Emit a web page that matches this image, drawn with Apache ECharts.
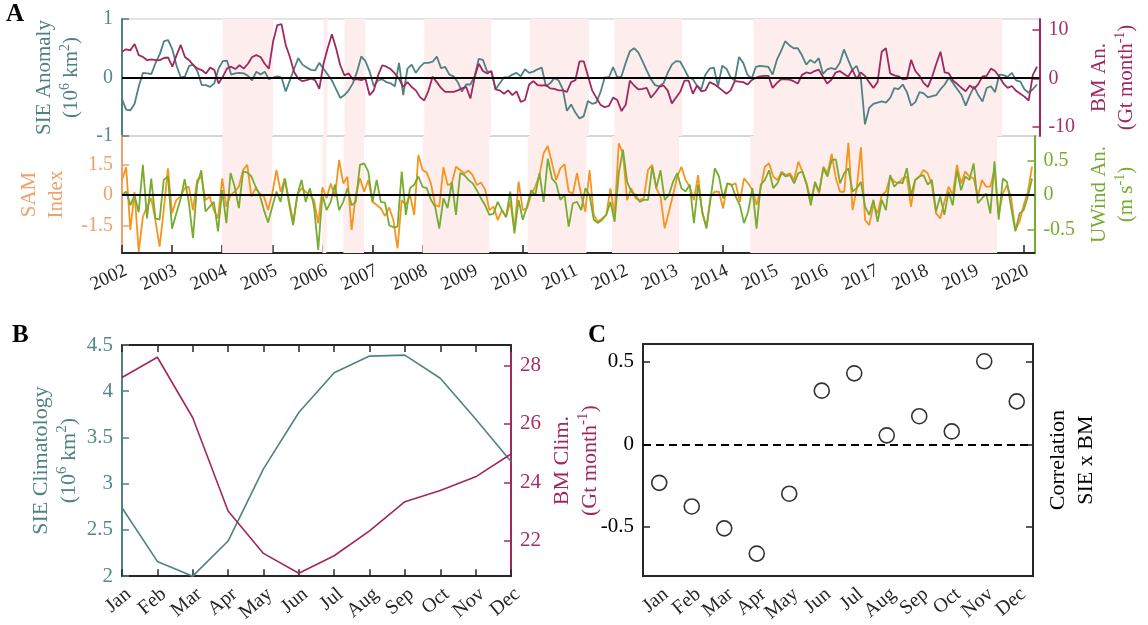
<!DOCTYPE html>
<html><head><meta charset="utf-8">
<script src="https://cdn.jsdelivr.net/npm/echarts@6/dist/echarts.min.js"></script>
<style>html,body{margin:0;padding:0;background:#fff}#c{width:1148px;height:625px}</style>
</head><body><div id="c"></div>
<script>
// ---------------- DATA ----------------
const startYear = 2002; // monthly series start Jan 2002
const sieAnomaly = [
-0.37,-0.55,-0.56,-0.45,-0.15,0.08,0.07,0.06,0.25,0.4,0.62,0.64,
0.48,0.2,0.0,0.02,0.2,0.22,0.1,-0.13,-0.13,-0.16,-0.1,0.15,
0.28,0.29,0.05,0.07,0.08,0.07,0.03,-0.05,0.1,0.05,0.1,-0.03,
0.0,0.02,0.0,-0.24,-0.05,0.15,0.33,0.22,0.17,0.13,0.12,0.25,
0.15,0.05,-0.05,-0.2,-0.35,-0.3,-0.22,-0.1,0.1,0.36,0.28,0.1,
-0.15,-0.05,-0.03,-0.08,-0.1,-0.15,0.25,-0.3,0.15,0.22,0.08,0.18,
0.25,0.25,0.27,0.36,0.16,0.18,0.05,0.02,-0.08,-0.24,-0.12,-0.12,
0.02,0.32,0.3,0.1,0.1,-0.2,-0.1,0.0,0.0,0.05,0.08,0.02,
0.14,0.08,0.1,0.14,0.17,-0.15,-0.1,-0.01,-0.05,-0.2,-0.57,-0.46,
-0.6,-0.7,-0.66,-0.4,-0.45,-0.43,-0.25,0.0,0.0,0.18,0.0,0.02,
0.25,0.45,0.5,0.43,0.28,0.12,-0.03,-0.13,-0.15,-0.1,0.08,0.22,
0.28,0.27,0.14,0.0,-0.03,-0.14,-0.2,0.05,0.15,0.17,-0.15,0.2,
0.15,0.0,-0.05,0.35,0.25,0.05,-0.02,0.18,0.2,0.19,0.18,0.05,
0.3,0.45,0.62,0.55,0.5,0.5,0.38,0.22,0.3,0.25,0.33,0.06,
0.14,0.16,0.14,0.25,0.48,0.3,0.13,0.2,0.0,-0.8,-0.52,-0.45,
-0.43,-0.41,-0.43,-0.35,-0.18,-0.2,-0.12,-0.25,-0.48,-0.42,-0.25,-0.27,
-0.34,-0.32,-0.3,-0.2,-0.12,0.0,-0.1,-0.2,-0.3,-0.48,-0.3,-0.15,
-0.3,-0.41,-0.18,-0.15,-0.25,0.05,0.04,0.01,0.08,-0.05,-0.07,-0.2,
-0.26,-0.2,-0.12];
const bmAnomaly = [
5.5,6.0,5.8,7.1,4.8,4.4,3.75,3.9,3.75,3.75,4.2,4.3,
2.4,4.8,6.9,4.4,3.75,2.7,2.0,1.7,1.0,2.2,1.7,-1.1,
0.3,2.0,2.4,1.9,2.7,2.0,3.0,4.4,4.8,4.4,3.0,2.0,
7.6,11.0,11.2,6.9,4.4,1.3,-0.1,-0.6,-0.4,-0.1,-0.4,-2.2,
3.0,6.2,9.1,6.2,2.7,0.6,1.0,-0.2,-0.2,-0.4,-0.1,-3.5,
-2.5,0.6,2.7,2.4,1.9,1.0,-0.1,-1.8,-0.8,-1.8,-2.5,-3.9,
-4.6,-2.6,0.3,-0.8,-2.0,-2.8,-2.8,-2.8,-2.5,-2.1,-1.8,-4.2,
0.2,3.0,1.5,1.0,1.5,-2.3,-2.5,-3.2,-2.5,-3.5,-2.7,-4.9,
-4.5,-1.3,-0.6,-1.4,-1.5,-1.4,-2.1,-2.2,-2.5,-2.5,-2.8,-0.8,
-0.4,3.5,3.5,0.5,-2.5,-4.0,-5.5,-6.0,-5.7,-4.0,-4.5,-6.8,
-5.5,-0.5,-1.5,-2.3,-2.2,-2.0,-4.0,-3.0,-1.8,-1.5,-2.5,-5.2,
-4.0,-2.8,-0.5,-0.5,-3.2,-1.5,-2.7,-2.5,-0.8,-1.2,-1.8,-2.5,
-3.2,-2.5,-0.6,-0.7,-0.8,-1.3,-0.4,0.1,0.4,0.5,0.5,-2.0,
-1.0,-0.2,-0.2,-0.3,-0.6,-1.1,0.7,1.2,1.0,1.5,1.8,0.3,
-1.1,-0.3,1.2,1.5,0.9,0.3,1.8,-0.1,1.2,0.5,-0.8,-2.0,
-0.8,5.5,6.2,1.0,0.6,0.4,-0.2,-0.1,3.8,1.5,0.5,-1.0,
-1.8,0.3,3.0,5.5,1.2,1.0,-0.5,-1.2,-2.0,-2.7,-1.5,-2.2,
-1.2,0.4,0.5,2.0,1.5,0.3,-1.1,-2.0,-1.6,-2.6,-3.2,-3.8,
-4.6,0.7,2.4];
const samIndex = [
0.74,1.36,-1.72,0.16,-2.79,-1.07,-0.57,-0.16,-1.23,-2.54,-0.74,1.31,
-0.9,-0.25,-0.08,0.33,0.41,-0.74,0.74,0.9,-0.25,-0.08,-0.74,-1.15,
0.82,-0.57,0,0.16,0.41,1.23,1.48,-0.08,0.33,0.08,-0.08,-0.74,
0.08,1.23,0.16,0.82,-0.25,-1.31,0,0.33,0.16,0,-0.25,-1.39,
0.38,-0.16,0.57,-0.08,1.72,0.57,0.9,-1.72,0,0.82,0.16,0.74,
-0.33,-0.49,-0.66,-1.03,-0.61,-1.23,-2.62,-0.25,-0.49,0,-0.98,1.97,
1.23,1.1,0.57,-0.49,-0.57,1.36,0.49,0.57,1.39,1.23,1.07,1.2,
0.98,0.49,0.61,0.25,-0.74,-0.57,-1.23,-0.74,-1.1,-0.33,-1.72,0.66,
-0.74,-0.66,0,0.41,0.98,2.05,2.41,1.56,0.74,1.31,1.52,0.16,
0.08,1.07,0,-0.82,1.23,-0.98,-1.31,-1.15,-0.98,0.33,-0.98,2.54,
2.05,-0.25,0.33,-0.16,-0.25,-0.16,1.23,1.48,0.33,-0.08,-1.64,-0.82,
0,0.9,1.39,0.74,0.41,-0.25,0.98,-0.9,-1.56,-0.08,0.16,0.16,
-0.66,0.57,0.49,0.57,-0.33,0.82,0.57,0.25,-0.49,0.33,1.39,1.56,
0.9,0.74,1.15,0.98,1.07,0.74,1.64,1.15,0.57,-0.25,0.57,0.08,
1.39,1.07,2.02,0.82,0.16,0.16,2.57,-0.74,0.33,2.34,-1.23,-1.48,
-0.49,-0.9,0,0.16,0.9,0.66,0.57,0.82,0.9,-0.57,0.74,0.9,
1.23,1.07,0.49,-0.9,-1.15,-0.33,0.41,0,1.48,0.57,1.15,0.9,
0.82,-0.08,0.74,0.41,0.41,1.23,-0.98,0.08,0.49,-0.16,-1.72,-1.31,
-0.49,0.16,1.39];
const uwindAnomaly = [
0,0.05,-0.15,0,-0.25,0.44,-0.34,0.24,-0.34,-0.36,0.22,0.27,
-0.49,-0.27,-0.07,0.23,-0.1,-0.63,0.15,0.36,-0.24,-0.17,-0.1,-0.53,
0.07,-0.41,0.32,0.12,-0.19,0.34,0.33,0.27,0.12,0,-0.22,-0.4,
-0.17,0.05,-0.1,0.24,-0.12,-0.44,0,0.22,-0.1,0.1,-0.17,-0.8,
0,-0.22,-0.1,0.15,-0.22,-0.1,0.1,-0.15,-0.1,0.44,0.46,0.34,
-0.1,0.22,-0.1,-0.11,-0.44,-0.47,-0.46,0.34,-0.29,0.1,0.15,0.27,
0.12,0.1,-0.07,-0.17,-0.49,-0.05,-0.19,0.19,-0.29,0.32,0.29,0.22,
0.17,0.07,-0.05,-0.15,-0.29,-0.27,-0.1,-0.22,-0.32,0.05,-0.56,-0.07,
-0.36,-0.17,0.07,0,0.32,-0.1,0.53,0.24,0.17,-0.07,0,-0.46,
-0.12,-0.1,-0.22,0.1,0,-0.36,-0.41,-0.36,-0.29,-0.1,-0.39,0.32,
0.66,0.19,0.05,0,-0.1,-0.07,-0.07,0.41,0.1,0.36,-0.07,0,
0.19,0.32,0.1,0.05,0.15,-0.41,0.15,-0.24,-0.49,-0.05,0.39,0.27,
-0.05,0.17,0.15,-0.02,-0.15,-0.41,-0.24,0.1,-0.49,0.15,0.22,0.36,
0.1,0.17,0.32,0.27,0.29,0.17,0.32,0.34,0.15,-0.15,0.19,0.05,
0.39,0.27,0.51,0.52,0.17,0.32,0.39,0.05,0.1,0.19,-0.17,-0.29,
-0.07,-0.39,-0.07,-0.22,0.29,0.12,0.19,0.17,0.39,0,0.22,0.27,
0.29,0.15,0.22,-0.24,-0.02,-0.29,0.05,-0.15,0.36,0.07,0.27,0.22,
0.46,-0.12,-0.05,0.02,-0.27,0.49,-0.36,0.24,0.19,-0.19,-0.53,-0.27,
-0.22,-0.02,0.24];
const shadedPeriods = [[2004.0,2005.0],[2006.0,2006.08],[2006.42,2006.83],[2008.0,2009.33],[2010.1,2011.27],[2011.78,2013.12],[2014.54,2019.47]];
const yearTicks = [2002,2003,2004,2005,2006,2007,2008,2009,2010,2011,2012,2013,2014,2015,2016,2017,2018,2019,2020];
const months = ['Jan','Feb','Mar','Apr','May','Jun','Jul','Aug','Sep','Oct','Nov','Dec'];
const sieClimatology = [2.74,2.16,2.0,2.38,3.16,3.77,4.2,4.38,4.39,4.14,3.7,3.24];
const bmClimatology = [27.59,28.28,26.21,23.02,21.57,20.89,21.49,22.34,23.34,23.72,24.19,24.97];
const corrSieBm = [-0.234,-0.377,-0.51,-0.663,-0.30,0.325,0.43,0.054,0.17,0.078,0.503,0.26];
const sieTicks = [-1,0,1], bmTicks = [-10,0,10], samTicks = [-1.5,0,1.5], uwTicks = [-0.5,0,0.5];
const sieClimTicks = [2,2.5,3,3.5,4,4.5], bmClimTicks = [22,24,26,28], corrTicks = [-0.5,0,0.5];

// ---------------- STYLE ----------------
const F = 'Liberation Serif';
const TEAL = '#4f8282', TEAL_T = '#568989';
const MAG = '#a0285f', MAG_T = '#a3306a';
const ORA = '#f7941e', SAL = '#eda26c';
const GRN = '#77ac30';
const DARK = '#262626';
const toSeries = (arr) => arr.map((v, i) => [startYear + i / 12, v]);

function nameStyle(color, size) {
  return { color, fontFamily: F, fontSize: size, lineHeight: size + 6,
    rich: { t: { color, fontFamily: F, fontSize: size, lineHeight: size + 6 },
            s: { color, fontFamily: F, fontSize: Math.round(size * 0.66), lineHeight: Math.round(size * 0.72), verticalAlign: 'top' } } };
}
function yAx(o) {
  return {
    type: 'value', gridIndex: o.grid, position: o.pos, min: o.min, max: o.max,
    axisLine: { show: true, onZero: false, lineStyle: { color: o.color, width: 2 } },
    axisTick: { show: true, inside: true, length: 7, customValues: o.ticks, lineStyle: { color: o.color, width: 1.5 } },
    axisLabel: { show: o.labels !== false, customValues: o.ticks, color: o.tcolor || o.color, fontFamily: F, fontSize: o.fs || 20, margin: 9 },
    splitLine: { show: false },
    name: o.name || '', nameLocation: 'middle', nameRotate: 90, nameGap: o.gap || 30,
    nameTextStyle: nameStyle(o.ncolor || o.color, o.nfs || 21)
  };
}
function catAx(grid, pos, gap, labels) {
  return { type: 'category', gridIndex: grid, data: months, boundaryGap: gap, position: pos,
    axisLine: { onZero: false, lineStyle: { color: DARK, width: 1.8 } },
    axisTick: { inside: true, length: 7, alignWithLabel: true, lineStyle: { color: DARK, width: 1.5 } },
    axisLabel: labels ? { rotate: 40, align: 'right', verticalAlign: 'top', margin: 8, color: DARK, fontFamily: F, fontSize: 20, interval: 0 } : { show: false } };
}
const markAreaCfg = { silent: true, itemStyle: { color: '#fdeded' },
  data: shadedPeriods.map(p => [{ xAxis: p[0] }, { xAxis: p[1] }]) };
const zeroLine = (dashed) => ({ silent: true, symbol: ['none', 'none'], label: { show: false },
  lineStyle: { color: '#000', width: 2, type: dashed ? [8, 5] : 'solid' }, data: [{ yAxis: 0 }] });

const chart = echarts.init(document.getElementById('c'), null, { renderer: 'canvas' });
chart.setOption({
  animation: false,
  backgroundColor: '#fff',
  grid: [
    { left: 122, top: 19, width: 918, height: 117, show: true, borderColor: '#c8c8c8', borderWidth: 1 },
    { left: 122, top: 136, width: 918, height: 117, show: true, borderColor: '#c8c8c8', borderWidth: 1 },
    { left: 122, top: 345, width: 389, height: 233 },
    { left: 643, top: 344, width: 390, height: 234 }
  ],
  xAxis: [
    { type: 'value', gridIndex: 0, min: 2002, max: 2020.214, show: false },
    { type: 'value', gridIndex: 1, min: 2002, max: 2020.214,
      axisLine: { onZero: false, lineStyle: { color: DARK, width: 2 } },
      axisTick: { inside: true, length: 8, customValues: yearTicks, lineStyle: { color: DARK, width: 1.5 } },
      axisLabel: { customValues: yearTicks, rotate: 25, align: 'right', verticalAlign: 'top', margin: 8, color: DARK, fontFamily: F, fontSize: 19, formatter: v => String(v) },
      splitLine: { show: false } },
    catAx(2, 'bottom', false, true),
    catAx(2, 'top', false, false),
    catAx(3, 'bottom', true, true),
    catAx(3, 'top', true, false)
  ],
  yAxis: [
    yAx({ grid: 0, pos: 'left', min: -1, max: 1, ticks: sieTicks, color: TEAL, tcolor: TEAL_T,
          name: '{t|SIE Anomaly}\n{t|(10}{s|6}{t| km}{s|2}{t|)}', gap: 32 }),
    yAx({ grid: 0, pos: 'right', min: -11.95, max: 12.27, ticks: bmTicks, color: MAG, tcolor: MAG_T,
          name: '{t|BM An.}\n{t|(Gt month}{s|-1}{t|)}', gap: 33 }),
    yAx({ grid: 1, pos: 'left', min: -2.85, max: 2.9, ticks: samTicks, color: SAL,
          name: '{t|SAM}\n{t|Index}', gap: 38 }),
    yAx({ grid: 1, pos: 'right', min: -0.845, max: 0.86, ticks: uwTicks, color: GRN,
          name: '{t|UWind An.}\n{t|(m s}{s|-1}{t|)}', gap: 48 }),
    yAx({ grid: 2, pos: 'left', min: 2, max: 4.5, ticks: sieClimTicks, color: TEAL, tcolor: TEAL_T, fs: 21, nfs: 22,
          name: '{t|SIE Climatology}\n{t|(10}{s|6}{t| km}{s|2}{t|)}', gap: 38 }),
    yAx({ grid: 2, pos: 'right', min: 20.79, max: 28.70, ticks: bmClimTicks, color: MAG, tcolor: MAG_T, fs: 21, nfs: 22,
          name: '{t|BM Clim.}\n{t|(Gt month}{s|-1}{t|)}', gap: 37 }),
    yAx({ grid: 3, pos: 'left', min: -0.8, max: 0.608, ticks: corrTicks, color: DARK, tcolor: '#000', fs: 21 }),
    yAx({ grid: 3, pos: 'right', min: -0.8, max: 0.608, ticks: corrTicks, color: DARK, labels: false, nfs: 22, ncolor: '#000',
          name: '{t|Correlation}\n{t|SIE x BM}', gap: 11 })
  ],
  series: [
    { type: 'line', name: 'SIE anomaly', xAxisIndex: 0, yAxisIndex: 0, data: toSeries(sieAnomaly), showSymbol: false, symbol: 'none',
      lineStyle: { color: TEAL, width: 1.8 }, itemStyle: { color: TEAL }, markArea: markAreaCfg, markLine: zeroLine(false) },
    { type: 'line', name: 'BM anomaly', xAxisIndex: 0, yAxisIndex: 1, data: toSeries(bmAnomaly), showSymbol: false, symbol: 'none',
      lineStyle: { color: MAG, width: 1.8 }, itemStyle: { color: MAG } },
    { type: 'line', name: 'SAM', xAxisIndex: 1, yAxisIndex: 2, data: toSeries(samIndex), showSymbol: false, symbol: 'none',
      lineStyle: { color: ORA, width: 1.8 }, itemStyle: { color: ORA }, markArea: markAreaCfg },
    { type: 'line', name: 'UWind', xAxisIndex: 1, yAxisIndex: 3, data: toSeries(uwindAnomaly), showSymbol: false, symbol: 'none',
      lineStyle: { color: GRN, width: 1.8 }, itemStyle: { color: GRN }, markLine: zeroLine(false) },
    { type: 'line', name: 'SIE clim', xAxisIndex: 2, yAxisIndex: 4, data: sieClimatology, showSymbol: false, symbol: 'none',
      lineStyle: { color: TEAL, width: 1.6 }, itemStyle: { color: TEAL } },
    { type: 'line', name: 'BM clim', xAxisIndex: 2, yAxisIndex: 5, data: bmClimatology, showSymbol: false, symbol: 'none',
      lineStyle: { color: MAG, width: 1.6 }, itemStyle: { color: MAG } },
    { type: 'scatter', name: 'corr', xAxisIndex: 4, yAxisIndex: 6, data: corrSieBm, symbol: 'circle', symbolSize: 15,
      itemStyle: { color: '#fff', borderColor: '#000', borderWidth: 1.6 }, markLine: zeroLine(true), z: 5 }
  ],
  graphic: [
    { type: 'text', left: 6, top: 2, style: { text: 'A', font: 'bold 25px "Liberation Serif"', fill: '#000' } },
    { type: 'text', left: 12, top: 323, style: { text: 'B', font: 'bold 25px "Liberation Serif"', fill: '#000' } },
    { type: 'text', left: 588, top: 323, style: { text: 'C', font: 'bold 25px "Liberation Serif"', fill: '#000' } }
  ]
});
</script></body></html>
